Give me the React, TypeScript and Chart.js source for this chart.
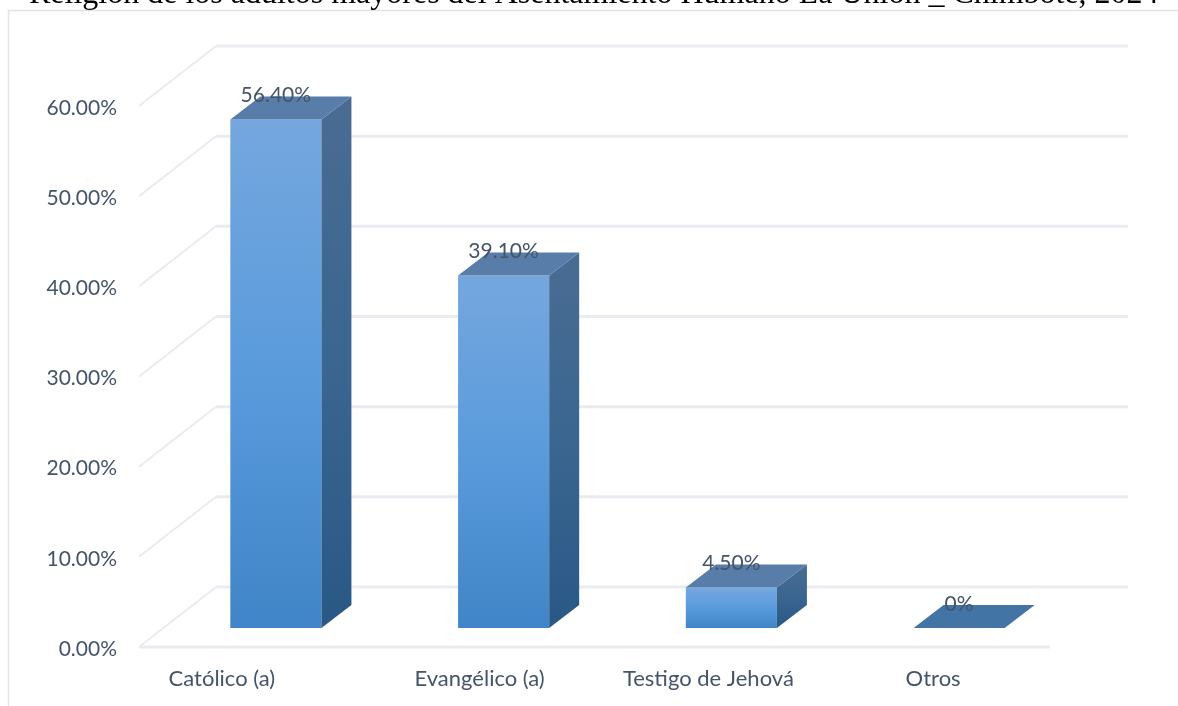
import React, { useEffect, useRef } from "react";
import { Chart, registerables } from "chart.js";

Chart.register(...registerables);

const titleText = "Religión de los adultos mayores del Asentamiento Humano La Unión _ Chimbote, 2024";
const categories = ["Católico (a)", "Evangélico (a)", "Testigo de Jehová", "Otros"];
const percentValues = [56.4, 39.1, 4.5, 0];
const valueLabels = ["56.40%", "39.10%", "4.50%", "0%"];

const INK = "#44546a";
const GRID = "#eaebf1";
const FONT = "Lato, 'Noto Sans', sans-serif";

// Projection of the pseudo-3D scene relative to the front (axis) plane.
const WALL_DX = 77;
const WALL_DY = -60;
const BAR_SHIFT_X = 23;
const BAR_SHIFT_Y = -19;
const BAR_DEPTH_X = 30;
const BAR_DEPTH_Y = -23;
const CATEGORY_LABEL_NUDGE = [-31, -1, 0, -3];

function frontGradient(ctx: CanvasRenderingContext2D, top: number, bottom: number) {
  const g = ctx.createLinearGradient(0, top, 0, bottom);
  g.addColorStop(0, "#75a7de");
  g.addColorStop(0.5, "#5a9bdc");
  g.addColorStop(1, "#4085c7");
  return g;
}

const scene3d = {
  id: "scene3d",
  beforeDatasetsDraw(chart: any) {
    const { ctx, chartArea, scales } = chart;
    const { left, right } = chartArea;
    ctx.save();

    // Chart frame: only the top and left edges fall inside the page
    ctx.strokeStyle = "#e0e3ec";
    ctx.lineWidth = 1.5;
    ctx.beginPath();
    ctx.moveTo(8.5, 706);
    ctx.lineTo(8.5, 10.5);
    ctx.lineTo(1178, 10.5);
    ctx.stroke();

    // Side wall and back wall gridlines for every y tick
    ctx.strokeStyle = GRID;
    for (const tick of scales.y.ticks) {
      const y = scales.y.getPixelForValue(tick.value);
      ctx.lineWidth = 2;
      ctx.beginPath();
      ctx.moveTo(left, y);
      ctx.lineTo(left + WALL_DX, y + WALL_DY);
      ctx.stroke();
      ctx.lineWidth = 3;
      ctx.beginPath();
      ctx.moveTo(left + WALL_DX, y + WALL_DY);
      ctx.lineTo(right + WALL_DX + 1, y + WALL_DY);
      ctx.stroke();
    }
    // Front edge of the floor
    const y0 = scales.y.getPixelForValue(0);
    ctx.lineWidth = 3;
    ctx.beginPath();
    ctx.moveTo(left, y0);
    ctx.lineTo(right, y0);
    ctx.stroke();
    ctx.restore();

    // The native bars sit in the middle of the floor's depth
    ctx.save();
    ctx.translate(BAR_SHIFT_X, BAR_SHIFT_Y);
  },
  afterDatasetsDraw(chart: any) {
    const { ctx, scales } = chart;
    ctx.restore();
    const bars = chart.getDatasetMeta(0).data;
    ctx.save();
    bars.forEach((bar: any, i: number) => {
      const half = bar.width / 2;
      const x0 = bar.x - half + BAR_SHIFT_X;
      const x1 = bar.x + half + BAR_SHIFT_X;
      const top = bar.y + BAR_SHIFT_Y;
      const bottom = bar.base + BAR_SHIFT_Y;
      const flat = percentValues[i] === 0;

      // Right-hand face
      if (!flat) {
        const side = ctx.createLinearGradient(0, top + BAR_DEPTH_Y, 0, bottom);
        side.addColorStop(0, "#4a6c93");
        side.addColorStop(0.5, "#3a6690");
        side.addColorStop(1, "#2a5885");
        ctx.fillStyle = side;
        ctx.beginPath();
        ctx.moveTo(x1, top);
        ctx.lineTo(x1 + BAR_DEPTH_X, top + BAR_DEPTH_Y);
        ctx.lineTo(x1 + BAR_DEPTH_X, bottom + BAR_DEPTH_Y);
        ctx.lineTo(x1, bottom);
        ctx.closePath();
        ctx.fill();
      }

      // Upper face
      ctx.fillStyle = flat ? "#4274a6" : "#587da8";
      ctx.beginPath();
      ctx.moveTo(x0, top);
      ctx.lineTo(x1, top);
      ctx.lineTo(x1 + BAR_DEPTH_X, top + BAR_DEPTH_Y);
      ctx.lineTo(x0 + BAR_DEPTH_X, top + BAR_DEPTH_Y);
      ctx.closePath();
      ctx.fill();

      // Value label
      ctx.fillStyle = INK;
      ctx.font = `21px ${FONT}`;
      ctx.textAlign = "center";
      ctx.textBaseline = "middle";
      ctx.fillText(valueLabels[i], bar.x + BAR_SHIFT_X, top - 24);

      // Category label
      ctx.font = `22px ${FONT}`;
      const catX = scales.x.getPixelForValue(i) + CATEGORY_LABEL_NUDGE[i];
      ctx.fillText(categories[i], catX, 679);
    });

    // Heading, clipped by the top of the page
    ctx.fillStyle = "#000000";
    ctx.font = "32px 'Liberation Serif', serif";
    ctx.textAlign = "left";
    ctx.textBaseline = "alphabetic";
    ctx.fillText(titleText, 29, 3);
    ctx.restore();
  },
};

export default function App() {
  const canvasRef = useRef<HTMLCanvasElement | null>(null);

  useEffect(() => {
    const canvas = canvasRef.current;
    if (!canvas) return;
    const chart = new Chart(canvas, {
      type: "bar",
      data: {
        labels: categories,
        datasets: [
          {
            data: percentValues,
            barPercentage: 0.4,
            categoryPercentage: 1,
            borderWidth: 0,
            backgroundColor: (c: any) => {
              const y = c.chart.scales.y;
              if (!y || c.dataIndex === undefined) return "#5a9bdc";
              const top = y.getPixelForValue(percentValues[c.dataIndex]);
              const bottom = y.getPixelForValue(0);
              if (!Number.isFinite(top) || !Number.isFinite(bottom)) return "#5a9bdc";
              return frontGradient(c.chart.ctx, top, bottom);
            },
          },
        ],
      },
      options: {
        responsive: false,
        animation: false,
        events: [],
        layout: { padding: { left: 39, right: 128, top: 106, bottom: 59 } },
        plugins: { legend: { display: false }, tooltip: { enabled: false } },
        scales: {
          x: { display: false },
          y: {
            min: 0,
            max: 60,
            border: { display: false },
            grid: { display: false, drawTicks: false },
            afterFit: (scale: any) => {
              scale.width = 100;
            },
            ticks: {
              stepSize: 10,
              padding: 22,
              labelOffset: 2,
              color: INK,
              font: { family: FONT, size: 21 },
              callback: (v: any) => `${Number(v).toFixed(2)}%`,
            },
          },
        },
      },
      plugins: [scene3d],
    });
    return () => chart.destroy();
  }, []);

  return (
    <div style={{ position: "absolute", left: 0, top: 0, width: 1178, height: 706, background: "#fff" }}>
      <canvas ref={canvasRef} width={1178} height={706} style={{ display: "block" }} />
    </div>
  );
}
